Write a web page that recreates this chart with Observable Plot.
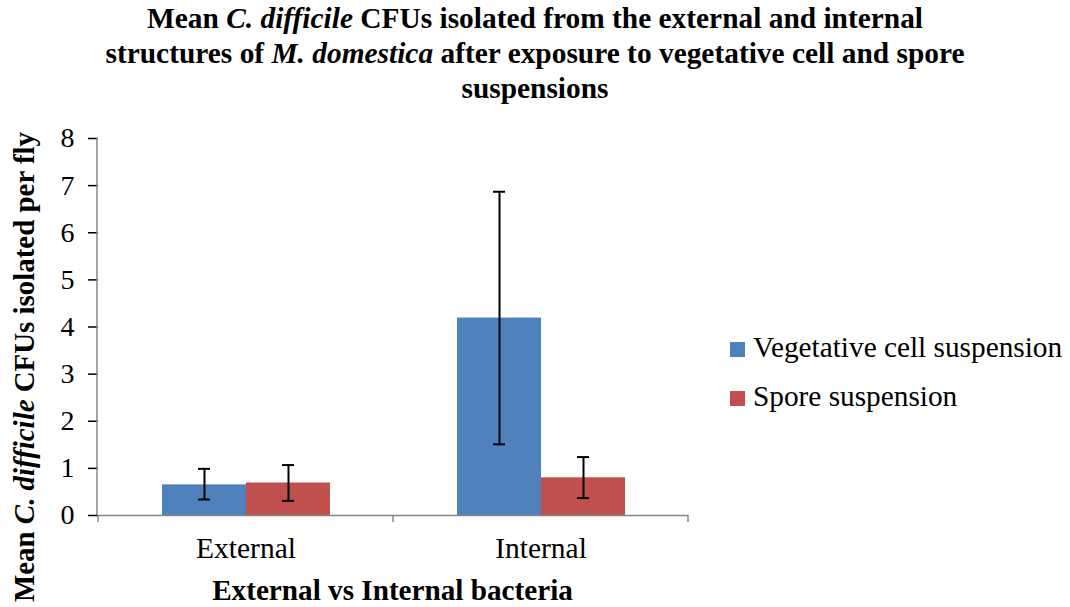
<!DOCTYPE html>
<html>
<head>
<meta charset="utf-8">
<script src="https://cdn.jsdelivr.net/npm/d3@7"></script>
<script src="https://cdn.jsdelivr.net/npm/@observablehq/plot@0.6"></script>
<style>
  html, body { margin: 0; padding: 0; background: #fff; }
  #wrap { position: relative; width: 1070px; height: 607px; overflow: hidden; font-family: "Liberation Serif", "Times New Roman", serif; }
  #title { position: absolute; left: 0; top: 1px; width: 1070px; text-align: center; font-weight: bold; font-size: 29.4px; line-height: 35px; color: #000; }
  #chart { position: absolute; left: 0; top: 108px; }
  #legend { position: absolute; left: 730px; top: 323px; font-size: 29.3px; color: #000; }
  #legend .item { line-height: 48.5px; white-space: nowrap; }
  #legend .sw { display: inline-block; width: 15px; height: 15px; margin-right: 8px; vertical-align: baseline; }
  svg [aria-label="y-axis tick"] { stroke: #868686; stroke-width: 1.5px; }
  svg [aria-label="y-axis tick label"] { font-size: 28px; }
</style>
</head>
<body>
<div id="wrap">
  <div id="title">Mean <i>C. difficile</i> CFUs isolated from the external and internal<br>structures of <i>M. domestica</i> after exposure to vegetative cell and spore<br>suspensions</div>
  <div id="chart"></div>
  <div id="legend"></div>
</div>
<script>
const categories = ["External", "Internal"];
const series = ["Vegetative cell suspension", "Spore suspension"];
const vegMean = [0.65, 4.19];
const vegLow = [0.34, 1.51];
const vegHigh = [0.99, 6.87];
const sporeMean = [0.69, 0.80];
const sporeLow = [0.31, 0.37];
const sporeHigh = [1.07, 1.24];
const yTicks = [0, 1, 2, 3, 4, 5, 6, 7, 8];
const colors = ["#4F81BD", "#C0504D"];

const rows = [];
categories.forEach((c, i) => {
  rows.push({cat: c, series: series[0], mean: vegMean[i], lo: vegLow[i], hi: vegHigh[i]});
  rows.push({cat: c, series: series[1], mean: sporeMean[i], lo: sporeLow[i], hi: sporeHigh[i]});
});

const axisGray = "#868686";

const plot = Plot.plot({
  width: 1070,
  height: 499,
  marginLeft: 97,
  marginRight: 382,
  marginTop: 30,
  marginBottom: 92,
  style: {fontFamily: "'Liberation Serif', 'Times New Roman', serif", fontSize: "29.5px", color: "#000", background: "transparent"},
  fx: {domain: categories, padding: 0, axis: "bottom", label: null, tickSize: 0, tickPadding: 22},
  x: {domain: series, paddingInner: 0, paddingOuter: 0.7485, axis: null},
  y: {domain: [0, 8], ticks: yTicks, tickSize: 10, tickPadding: 14, label: null, grid: false},
  color: {domain: series, range: colors},
  marks: [
    Plot.barY(rows, {fx: "cat", x: "series", y: "mean", fill: "series"}),
    Plot.ruleY([0], {stroke: axisGray, strokeWidth: 1.5}),
    Plot.ruleX(rows, {fx: "cat", x: "series", y1: "lo", y2: "hi", stroke: "#000", strokeWidth: 2}),
    Plot.tickY(rows, {fx: "cat", x: "series", y: "lo", stroke: "#000", strokeWidth: 2, insetLeft: 36, insetRight: 36}),
    Plot.tickY(rows, {fx: "cat", x: "series", y: "hi", stroke: "#000", strokeWidth: 2, insetLeft: 36, insetRight: 36})
  ]
});

document.getElementById("chart").appendChild(plot);

// axis line and category boundary ticks from the library's scales
const ys = plot.scale("y");
const fxs = plot.scale("fx");
const svg = d3.select(plot);
const yTop = ys.apply(8), yBot = ys.apply(0);
const fxLeft = fxs.range[0], fxRight = fxs.range[1];
svg.append("line").attr("x1", fxLeft).attr("x2", fxLeft).attr("y1", yTop).attr("y2", yBot)
  .attr("stroke", axisGray).attr("stroke-width", 1.5);
const bounds = categories.map(c => fxs.apply(c)).concat([fxRight]);
bounds.forEach(b => {
  svg.append("line").attr("x1", b).attr("x2", b).attr("y1", yBot).attr("y2", yBot + 7)
    .attr("stroke", axisGray).attr("stroke-width", 1.5);
});

// axis titles
const yt = svg.append("text")
  .attr("transform", `translate(34, 24) rotate(-90)`)
  .attr("text-anchor", "end")
  .attr("font-weight", "bold")
  .attr("font-size", "28.9px");
yt.append("tspan").text("Mean ");
yt.append("tspan").attr("font-style", "italic").text("C. difficile");
yt.append("tspan").text(" CFUs isolated per fly");

svg.append("text")
  .attr("x", (fxLeft + fxRight) / 2)
  .attr("y", 492)
  .attr("text-anchor", "middle")
  .attr("font-weight", "bold")
  .attr("font-size", "29.2px")
  .text("External vs Internal bacteria");

// legend
const color = plot.scale("color");
const legend = d3.select("#legend");
series.forEach(s => {
  const it = legend.append("div").attr("class", "item");
  it.append("span").attr("class", "sw").style("background", color.apply(s));
  it.append("span").text(s);
});
</script>
</body>
</html>
